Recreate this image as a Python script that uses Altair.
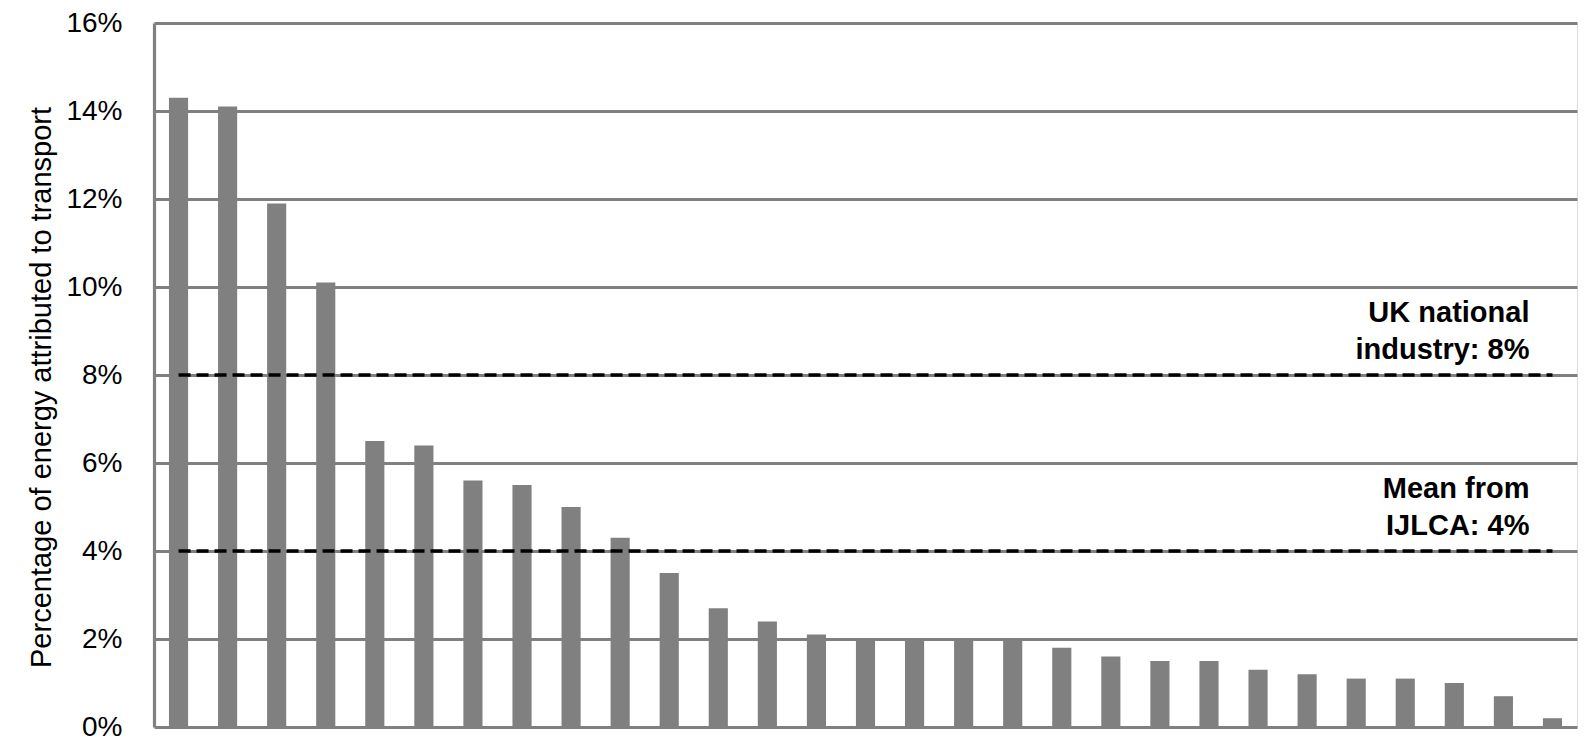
import altair as alt
import pandas as pd

# ---- data ----
categories = [f"S{i+1:02d}" for i in range(29)]
values = [14.3, 14.1, 11.9, 10.1, 6.5, 6.4, 5.6, 5.5, 5.0, 4.3, 3.5, 2.7, 2.4,
          2.1, 2.0, 2.0, 2.0, 2.0, 1.8, 1.6, 1.5, 1.5, 1.3, 1.2, 1.1, 1.1,
          1.0, 0.7, 0.2]
ref_names = ["UK national industry", "Mean from IJLCA"]
ref_values = [8, 4]
ref_line1 = ["UK national", "Mean from"]
ref_line2 = ["industry: 8%", "IJLCA: 4%"]
y_ticks = [0, 2, 4, 6, 8, 10, 12, 14, 16]
y_title = "Percentage of energy attributed to transport"

# ---- tables ----
bars_df = pd.DataFrame({"cat": categories, "value": values})
ref_df = pd.DataFrame(
    [{"cat": c, "value": v, "ref": n} for n, v in zip(ref_names, ref_values) for c in categories]
)
txt_df = pd.DataFrame({
    "cat": [categories[-1]] * len(ref_values),
    "value": ref_values,
    "line1": ref_line1,
    "line2": ref_line2,
})

FONT = "Liberation Sans"
GRAY = "#808080"

x_enc = alt.X("cat:N", sort=categories,
              scale=alt.Scale(paddingInner=0.61, paddingOuter=0.305),
              axis=None)
y_enc = alt.Y("value:Q",
              scale=alt.Scale(domain=[0, 16], nice=False, zero=True),
              axis=alt.Axis(values=y_ticks, labelExpr="datum.value + '%'",
                            title=y_title, grid=True, gridColor=GRAY, gridWidth=3.2,
                            ticks=False, domain=True, domainColor=GRAY, domainWidth=3.2,
                            labelFont=FONT, labelFontSize=28, labelColor="black",
                            labelPadding=32, labelAlign="right", labelBaseline="middle",
                            titleFont=FONT, titleFontSize=29, titleFontWeight="normal",
                            titleColor="black", titleAngle=270, titleAlign="center",
                            titleBaseline="alphabetic", titleX=-104, titleY=364))

bars = alt.Chart(bars_df).mark_bar(color=GRAY).encode(x=x_enc, y=y_enc)

lines = alt.Chart(ref_df).mark_line(color="black", strokeWidth=3.5, strokeDash=[12, 6]).encode(
    x=x_enc, y=y_enc, detail="ref:N")

txt1 = alt.Chart(txt_df).mark_text(font=FONT, fontSize=29, fontWeight="bold", color="black",
                                   align="right", baseline="alphabetic", dx=-23, dy=-53).encode(
    x=x_enc, y=y_enc, text="line1:N")
txt2 = alt.Chart(txt_df).mark_text(font=FONT, fontSize=29, fontWeight="bold", color="black",
                                   align="right", baseline="alphabetic", dx=-23, dy=-16).encode(
    x=x_enc, y=y_enc, text="line2:N")

chart = alt.layer(bars, lines, txt1, txt2).properties(
    width=1423, height=704,
    autosize=alt.AutoSizeParams(type="none"),
    padding={"left": 146, "top": 15, "right": 10, "bottom": 20},
).configure_view(stroke=GRAY, strokeWidth=3.2).configure(background="white")

chart.save("out.html", embed_options={"renderer": "svg", "actions": False})
